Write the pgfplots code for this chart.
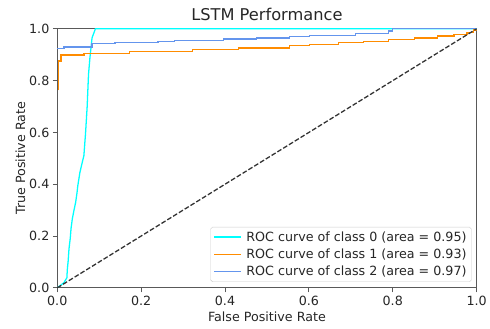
\documentclass[border=0pt]{standalone}
\usepackage{pgfplots}
\pgfplotsset{compat=1.18}
\usepackage{fontspec}
\setmainfont{DejaVu Sans}
\definecolor{mplorange}{HTML}{FF8C00}
\definecolor{mplblue}{HTML}{6495ED}
\definecolor{mplcyan}{HTML}{00FFFF}
\definecolor{txt}{HTML}{262626}
\begin{document}
\begin{tikzpicture}
\begin{axis}[name=ax, scale only axis, width=425bp, height=262.5bp,
  xmin=0, xmax=1, ymin=0, ymax=1,
  xtick={0,0.2,0.4,0.6,0.8,1.0}, ytick={0,0.2,0.4,0.6,0.8,1.0},
  /pgf/number format/assume math mode=true,
  xticklabel style={/pgf/number format/fixed, /pgf/number format/fixed zerofill, /pgf/number format/precision=1},
  yticklabel style={/pgf/number format/fixed, /pgf/number format/fixed zerofill, /pgf/number format/precision=1},
  tick label style={font=\fontsize{12.9}{15}\selectfont, text=txt},
  label style={font=\fontsize{12.9}{15}\selectfont, text=txt},
  ylabel style={yshift=-3bp},
  title style={font=\fontsize{16.5}{19}\selectfont, text=txt, yshift=-1bp},
  title={LSTM Performance},
  xlabel={False Positive Rate}, ylabel={True Positive Rate},
  tick align=outside, tick pos=left, major tick length=4.5bp,
  every tick/.style={black!65, line width=1bp},
  axis line style={black!65, line width=1bp},
  legend cell align=left,
  legend style={at={(1,0)}, anchor=south east, xshift=-5bp, yshift=6bp,
    draw=black!20, rounded corners=2pt, fill=white, fill opacity=0.8, text opacity=1,
    text=txt, font=\fontsize{12.9}{15}\selectfont, inner xsep=3bp, inner ysep=2.5bp,
    row sep=2.3bp, column sep=3bp},
  legend image code/.code={\draw[#1] (0bp,0bp) -- (27bp,0bp);},
]
\addplot[mplcyan, line width=1.3bp] coordinates {
(0,0) (0.005,0.006) (0.016,0.02) (0.023,0.039) (0.024,0.07) (0.026,0.103) (0.028,0.15) (0.031,0.191)
(0.033,0.23) (0.036,0.267) (0.040,0.3) (0.044,0.331) (0.047,0.365) (0.049,0.394)
(0.054,0.445) (0.059,0.48) (0.0635,0.51) (0.0675,0.597) (0.0713,0.698) (0.0746,0.825)
(0.078,0.889) (0.083,0.965) (0.091,1) (1,1)};
\addlegendentry{ROC curve of class 0 (area = 0.95)}
\addplot[mplorange, line width=1.3bp, const plot mark left] coordinates {
(0.003,0.762) (0.003,0.876) (0.009,0.899) (0.0635,0.905) (0.173,0.912) (0.322,0.92)
(0.432,0.926) (0.554,0.935) (0.601,0.94) (0.671,0.946) (0.730,0.952) (0.789,0.958)
(0.852,0.965) (0.907,0.972) (0.946,0.978) (0.977,0.985) (0.993,0.995) (1,1)};
\addlegendentry{ROC curve of class 1 (area = 0.93)}
\addplot[mplblue, line width=1.3bp, const plot mark left] coordinates {
(0,0.923) (0.016,0.93) (0.083,0.943) (0.138,0.947) (0.24,0.952) (0.279,0.955)
(0.397,0.961) (0.475,0.965) (0.554,0.971) (0.601,0.975) (0.711,0.983) (0.789,0.992) (0.8,1) (1,1)};
\addlegendentry{ROC curve of class 2 (area = 0.97)}
\addplot[black!80, line width=1.3bp, dash pattern=on 4.8bp off 2.1bp, forget plot] coordinates {(0,0) (1,1)};
\end{axis}
\path ([xshift=-58bp,yshift=-41.3bp]ax.south west) rectangle ([xshift=7bp,yshift=29.2bp]ax.north east);
\end{tikzpicture}
\end{document}
